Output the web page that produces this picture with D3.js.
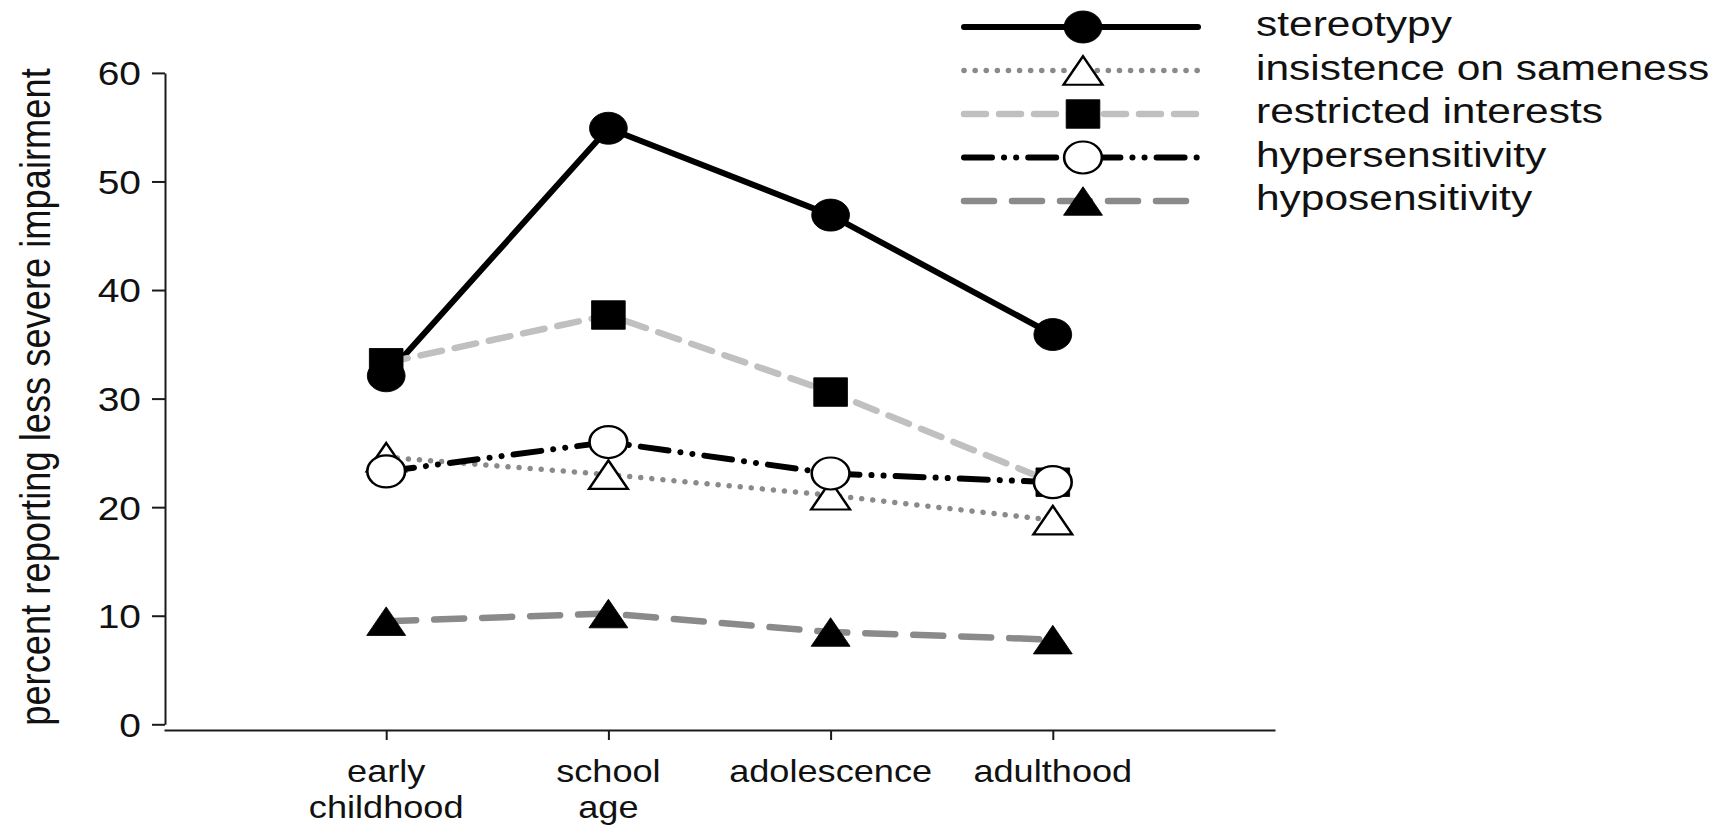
<!DOCTYPE html>
<html>
<head>
<meta charset="utf-8">
<script src="https://cdn.jsdelivr.net/npm/d3@7"></script>
<style>
  html, body { margin: 0; padding: 0; background: #fff; }
  svg { display: block; }
</style>
</head>
<body>
<svg id="chart" width="1732" height="825"></svg>
<script>
// ---------- data ----------
const categories = ["early childhood", "school age", "adolescence", "adulthood"];
const categoryLabels = [["early", "childhood"], ["school", "age"], ["adolescence"], ["adulthood"]];
const seriesNames = ["stereotypy", "insistence on sameness", "restricted interests", "hypersensitivity", "hyposensitivity"];
const stereotypy = [32.1, 54.9, 46.9, 35.9];
const insistenceOnSameness = [24.6, 23.0, 21.1, 18.8];
const restrictedInterests = [33.3, 37.7, 30.6, 22.3];
const hypersensitivity = [23.3, 26.0, 23.1, 22.3];
const hyposensitivity = [9.5, 10.2, 8.5, 7.8];
const yTicks = [0, 10, 20, 30, 40, 50, 60];
const yTitle = "percent reporting less severe impairment";

// ---------- styles ----------
const SX = 1.18; // horizontal stretch of the original figure
const FONT = "'Liberation Sans', Arial, Helvetica, sans-serif";
const styles = [
  { values: stereotypy, color: "#000", width: 6, dash: null, cap: "round", marker: "circle", fill: "#000" },
  { values: insistenceOnSameness, color: "#8a8a8a", width: 5.5, dash: "0.1 11", cap: "round", marker: "triangle", fill: "#fff" },
  { values: restrictedInterests, color: "#c0c0c0", width: 6.5, dash: "22 13", cap: "round", marker: "square", fill: "#000" },
  { values: hypersensitivity, color: "#000", width: 6, dash: "28 12 0.1 12 0.1 12", cap: "round", marker: "circle", fill: "#fff" },
  { values: hyposensitivity, color: "#8a8a8a", width: 6.5, dash: "30 18", cap: "round", marker: "triangle", fill: "#000" }
];

const svg = d3.select("#chart");
svg.append("rect").attr("width", 1732).attr("height", 825).attr("fill", "#fff");

const x = d3.scalePoint().domain(categories).range([164, 1275]).padding(1);
const y = d3.scaleLinear().domain([0, 60]).range([724.3, 72.9]);

// ---------- axes ----------
const yAxis = svg.append("g").attr("transform", "translate(165,0)")
  .call(d3.axisLeft(y).tickValues(yTicks).tickSize(13).tickSizeOuter(0).tickFormat(d3.format("d")));
yAxis.select(".domain").attr("stroke", "#1a1a1a").attr("stroke-width", 2);
yAxis.selectAll(".tick line").attr("stroke", "#1a1a1a").attr("stroke-width", 2);
yAxis.selectAll(".tick text")
  .attr("x", 0).attr("dy", "0.36em")
  .attr("transform", `translate(-24,0) scale(${SX},1)`)
  .attr("font-family", FONT).attr("font-size", 33).attr("fill", "#111")
  .attr("text-anchor", "end");

const xAxis = svg.append("g").attr("transform", "translate(0,730)")
  .call(d3.axisBottom(x).tickSize(10).tickSizeOuter(0).tickFormat(""));
xAxis.select(".domain").attr("stroke", "#1a1a1a").attr("stroke-width", 2);
xAxis.selectAll(".tick line").attr("stroke", "#1a1a1a").attr("stroke-width", 2);

const xl = svg.append("g");
categories.forEach((c, i) => {
  const t = xl.append("text")
    .attr("transform", `translate(${x(c)},782) scale(1.13,1)`)
    .attr("text-anchor", "middle")
    .attr("font-family", FONT).attr("font-size", 32).attr("fill", "#111");
  categoryLabels[i].forEach((line, j) => {
    t.append("tspan").attr("x", 0).attr("y", j * 36).text(line);
  });
});

svg.append("text")
  .attr("transform", `translate(39,397) scale(${SX},1) rotate(-90)`)
  .attr("text-anchor", "middle").attr("dy", "0.26em")
  .attr("font-family", FONT).attr("font-size", 36.3).attr("fill", "#111")
  .text(yTitle);

// ---------- markers ----------
function drawMarker(g, type, fill, cx, cy) {
  let path, dy = 0;
  if (type === "circle") path = d3.symbol(d3.symbolCircle, Math.PI * 16 * 16)();
  else if (type === "square") path = d3.symbol(d3.symbolSquare, 28.5 * 28.5)();
  else { path = d3.symbol(d3.symbolTriangle, 470)(); dy = 4.75; }
  g.append("path")
    .attr("d", path)
    .attr("transform", `translate(${cx},${cy}) scale(${SX},1) translate(0,${dy})`)
    .attr("fill", fill)
    .attr("stroke", "#000")
    .attr("stroke-width", fill === "#fff" ? 2.2 : 0.8);
}

const line = d3.line().x((d, i) => x(categories[i])).y(d => y(d));
const plot = svg.append("g");
styles.forEach(s => {
  const g = plot.append("g");
  g.append("path").attr("d", line(s.values))
    .attr("fill", "none").attr("stroke", s.color).attr("stroke-width", s.width)
    .attr("stroke-dasharray", s.dash).attr("stroke-linecap", s.cap).attr("stroke-linejoin", "round");
  s.values.forEach((v, i) => drawMarker(g, s.marker, s.fill, x(categories[i]), y(v)));
});

// ---------- legend ----------
const legend = svg.append("g");
const legX0 = 964, legX1 = 1198, legMark = 1083, legText = 1256, legTop = 27, legStep = 43.5;
styles.forEach((s, i) => {
  const ly = legTop + i * legStep;
  legend.append("line").attr("x1", legX0).attr("x2", legX1).attr("y1", ly).attr("y2", ly)
    .attr("stroke", s.color).attr("stroke-width", s.width)
    .attr("stroke-dasharray", s.dash).attr("stroke-linecap", s.cap);
  drawMarker(legend, s.marker, s.fill, legMark, ly);
  legend.append("text")
    .attr("transform", `translate(${legText},${ly + 9}) scale(${SX},1)`)
    .attr("font-family", FONT).attr("font-size", 36).attr("fill", "#111")
    .text(seriesNames[i]);
});
</script>
</body>
</html>
